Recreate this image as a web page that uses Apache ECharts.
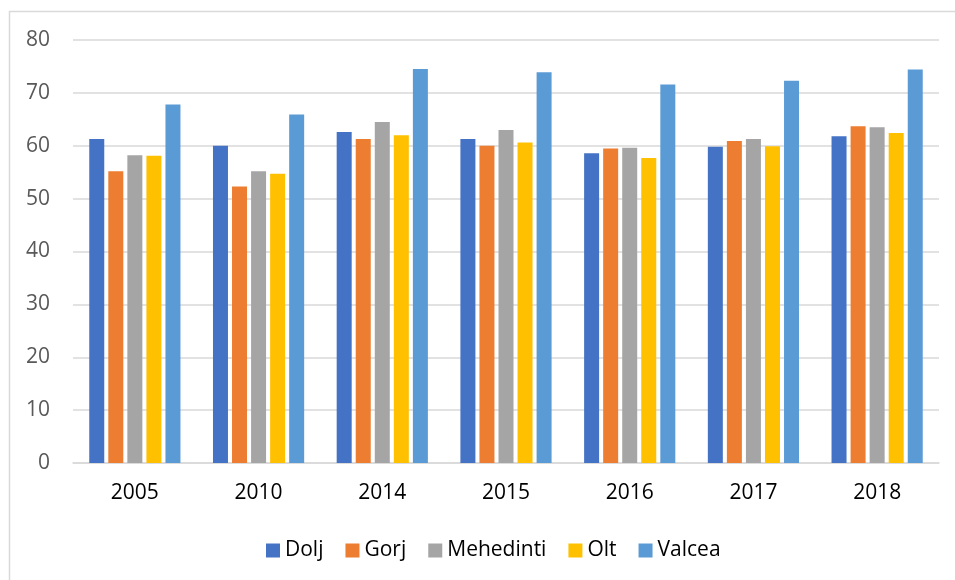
<!DOCTYPE html>
<html>
<head>
<meta charset="utf-8">
<script src="https://cdn.jsdelivr.net/npm/echarts@6/dist/echarts.min.js"></script>
<style>
  html, body { margin: 0; padding: 0; background: #fff; }
  #main { width: 955px; height: 580px; }
</style>
</head>
<body>
<div id="main"></div>
<script>
var years = ['2005', '2010', '2014', '2015', '2016', '2017', '2018'];
var dolj      = [61.3, 60.0, 62.6, 61.3, 58.6, 59.8, 61.8];
var gorj      = [55.2, 52.3, 61.3, 60.0, 59.5, 60.9, 63.7];
var mehedinti = [58.2, 55.2, 64.5, 63.0, 59.6, 61.3, 63.5];
var olt       = [58.1, 54.7, 62.0, 60.6, 57.7, 59.9, 62.4];
var valcea    = [67.8, 65.9, 74.5, 73.9, 71.6, 72.3, 74.4];

var font = 'Open Sans';

function bar(name, data, color) {
    return {
        name: name,
        type: 'bar',
        barWidth: 15,
        barGap: '27%',
        itemStyle: { color: color },
        data: data
    };
}

var myChart = echarts.init(document.getElementById('main'));
myChart.setOption({
    animation: false,
    textStyle: { fontFamily: font },
    graphic: [{
        type: 'rect',
        shape: { x: 9.5, y: 11.5, width: 1000, height: 1000 },
        style: { fill: 'none', stroke: '#d9d9d9', lineWidth: 1.5 },
        silent: true
    }],
    legend: {
        left: 261,
        top: 535,
        itemWidth: 14,
        itemHeight: 14,
        itemGap: 22,
        icon: 'rect',
        selectedMode: false,
        textStyle: { fontSize: 21, color: '#000', fontFamily: font },
        data: ['Dolj', 'Gorj', 'Mehedinti', 'Olt', 'Valcea']
    },
    grid: {
        left: 73,
        right: 16,
        top: 40,
        bottom: 117,
        containLabel: false
    },
    xAxis: {
        type: 'category',
        data: years,
        axisTick: { show: false },
        axisLine: { lineStyle: { color: '#d9d9d9', width: 1.5 } },
        axisLabel: { fontSize: 21, color: '#000', margin: 20, fontFamily: font }
    },
    yAxis: {
        type: 'value',
        min: 0,
        max: 80,
        interval: 10,
        axisLine: { show: false },
        axisTick: { show: false },
        splitLine: { lineStyle: { color: '#d9d9d9', width: 1.5 } },
        axisLabel: { fontSize: 21, color: '#595959', margin: 23, fontFamily: font }
    },
    series: [
        bar('Dolj', dolj, '#4472C4'),
        bar('Gorj', gorj, '#ED7D31'),
        bar('Mehedinti', mehedinti, '#A5A5A5'),
        bar('Olt', olt, '#FFC000'),
        bar('Valcea', valcea, '#5B9BD5')
    ]
});
</script>
</body>
</html>
